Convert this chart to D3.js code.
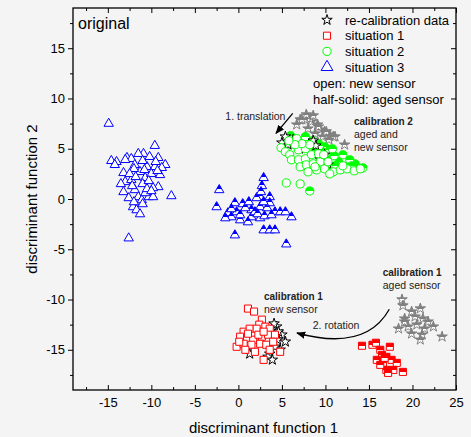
<!DOCTYPE html>
<html>
<head>
<meta charset="utf-8">
<script src="https://cdn.jsdelivr.net/npm/d3@7"></script>
<style>
  body { margin: 0; background: #f4f4f4; }
  text { font-family: Arial, "Liberation Sans", sans-serif; }
</style>
</head>
<body>
<div id="holder"></div>
<script>
const w = 471;
const h = 437;

// DATA  (discriminant function 1, discriminant function 2)
const xTicks = [-15, -10, -5, 0, 5, 10, 15, 20, 25];
const xMinor = [-17.5, -12.5, -7.5, -2.5, 2.5, 7.5, 12.5, 17.5, 22.5];
const yTicks = [-15, -10, -5, 0, 5, 10, 15];
const yMinor = [-17.5, -12.5, -7.5, -2.5, 2.5, 7.5, 12.5, 17.5];

// situation 3, new sensor (open triangles)
const s3New = [[-14.9,7.5],[-9.6,5.3],[-14.6,3.8],[-14.0,3.7],[-14.2,3.4],[-12.8,4.1],[-12.3,4.0],[-10.9,4.5],
  [-10.2,4.2],[-9.2,4.1],[-8.4,3.4],[-8.8,3.1],[-13.2,2.6],[-11.9,3.4],[-11.3,2.7],[-10.5,3.2],[-9.6,3.2],
  [-9.0,2.4],[-13.0,1.7],[-12.3,1.9],[-10.7,2.1],[-9.2,1.2],[-9.8,1.1],[-13.2,0.7],[-11.9,0.9],[-12.6,0.1],
  [-11.5,0.2],[-10.3,0.2],[-9.8,0.2],[-7.7,0.3],[-12.1,-0.8],[-11.7,-1.1],[-11.3,-1.5],[-11.1,-0.1],[-10.7,0.6],
  [-12.6,-3.9],[-13.5,1.5],[-12.0,3.0],[-11.0,1.5],[-10.0,2.5],[-11.5,4.5],[-10.5,1.0],[-12.5,2.5],[-11.0,3.8],
  [-9.5,3.7],[-10.0,0.8],[-12.0,-0.3],[-11.0,-0.5],[-13.0,3.9],[-11.8,2.2],[-10.3,1.8],[-9.3,2.8],[-12.2,1.3],[-10.8,2.9]];
// situation 3, aged sensor (half-solid triangles)
const s3Aged = [[-2.2,0.9],[-2.5,-0.8],[2.9,2.1],[2.7,1.3],[2.5,0.2],[3.6,0.2],[-0.4,-0.4],[0.5,-0.5],[-1.2,-1.4],
  [-0.8,-1.8],[0.2,-2.1],[1.5,-1.1],[1.5,-1.8],[2.5,-0.8],[2.5,-1.9],[3.3,-0.9],[3.6,-0.4],[4.2,-1.3],[4.8,-1.3],
  [5.4,-1.3],[6.1,-1.8],[2.9,-3.1],[3.6,-3.1],[4.2,-3.1],[-0.4,-3.6],[5.5,-4.5],[1.9,-1.3],[1.1,-2.3],[-1.5,-1.9],
  [2.1,0.1],[2.9,-0.3],[0.8,-0.9],[-0.2,-1.3],[1.2,-0.3],[2.2,-1.5],[3.0,-1.7],[0.2,-1.6],[-0.8,-1.0],[3.8,-1.6],[2.6,0.7]];
// situation 2, new sensor (open circles)
const s2New = [[6.7,6.0],[4.9,5.1],[5.4,4.7],[5.9,4.4],[6.9,4.9],[7.7,5.0],[6.1,3.9],[6.9,3.9],[7.7,4.0],[8.4,4.4],
  [9.2,4.5],[7.1,3.2],[7.8,3.4],[8.6,3.5],[9.4,3.7],[8.0,2.7],[9.0,2.9],[9.9,3.0],[10.9,2.7],[5.5,1.6],[7.1,1.5],
  [8.2,5.4],[7.3,5.5],[10.3,3.7],[9.8,4.4],[6.5,5.4],[11.7,2.9],[12.5,3.0],[13.3,2.8],[14.0,3.0],[12.0,3.3],
  [5.8,5.8],[8.8,3.2],[10.5,2.5]];
// situation 2, aged sensor (half-solid circles)
const s2Aged = [[7.7,6.2],[9.9,5.2],[10.5,4.9],[12.0,4.4],[12.4,3.2],[13.4,3.2],[8.2,0.8],[11.5,3.7],[9.2,5.5],
  [10.7,4.0],[13.4,3.5],[13.8,3.1],[8.5,5.8],[9.5,4.8],[11.0,4.3],[10.0,3.5],[11.2,3.3],[12.8,3.9],[13.0,3.3],
  [8.8,4.8],[10.8,5.0],[9.3,5.3],[14.3,3.1],[6.0,6.3]];
// calibration 2, aged sensor (grey stars)
const cal2Aged = [[7.7,7.9],[7.1,7.9],[8.4,7.7],[9.1,7.4],[8.0,7.0],[9.4,6.9],[9.9,6.7],[10.5,6.4],[11.1,6.2],
  [9.7,6.2],[8.8,6.5],[12.2,5.4],[7.3,7.9],[8.2,8.0],[9.2,7.2],[10.1,6.7],[10.9,6.2],[6.7,7.4],[8.6,8.3],
  [10.4,5.9],[7.8,8.4]];
// situation 1, new sensor (open squares)
const s1New = [[1.1,-10.9],[1.8,-11.2],[2.7,-12.0],[2.4,-12.5],[0.6,-13.2],[1.3,-12.9],[2.1,-12.9],[3.1,-12.7],
  [3.6,-12.9],[0.2,-13.7],[1.0,-13.9],[1.7,-14.0],[2.7,-13.7],[3.4,-13.5],[4.2,-13.5],[-0.2,-14.7],[0.6,-14.4],
  [1.5,-14.5],[2.5,-14.4],[3.2,-14.5],[4.0,-14.2],[4.8,-15.2],[3.6,-15.0],[2.9,-16.0],[1.9,-15.2],[0.8,-15.0],
  [0.1,-14.2],[2.3,-13.5],[1.1,-13.4],[2.9,-13.2]];
// situation 1, aged sensor (half-solid squares)
const s1Aged = [[14.2,-14.6],[15.4,-14.5],[15.8,-14.3],[17.4,-14.7],[16.3,-15.0],[16.5,-15.5],[17.0,-15.7],
  [15.9,-16.0],[16.6,-16.3],[17.6,-16.0],[18.2,-16.3],[17.0,-17.0],[17.8,-17.0],[18.9,-17.2],[17.2,-17.3],
  [16.3,-16.5],[16.8,-15.8]];
// calibration 1, aged sensor (grey stars)
const cal1Aged = [[18.8,-10.0],[18.9,-10.6],[20.9,-10.9],[19.9,-11.2],[19.1,-11.9],[20.3,-11.7],[21.2,-11.9],
  [18.4,-12.9],[19.5,-12.7],[20.5,-12.5],[21.4,-12.9],[22.4,-12.7],[19.9,-13.4],[21.1,-13.5],[23.4,-13.7],
  [20.9,-14.0],[19.1,-12.2],[21.8,-12.2]];
// re-calibration data (black open stars)
const recal = [[5.4,6.2],[5.7,5.4],[5.0,5.6],[8.6,5.8],[8.9,5.3],[9.9,4.4],[10.3,3.4],[7.0,5.0],[6.3,5.9],[9.3,4.0],
  [1.3,-15.4],[3.6,-15.4],[5.4,-14.2],[5.0,-13.5],[4.4,-12.7],[4.1,-12.4],[4.8,-15.0],[3.4,-15.7],[4.6,-13.2],
  [4.2,-14.7],[3.8,-13.0],[4.5,-14.0],[3.9,-16.0]];

const legendLabels = ["re-calibration data", "situation 1", "situation 2", "situation 3"];
const legendNotes = ["open: new sensor", "half-solid: aged sensor"];

// SVG
const svg = d3.select("#holder")
  .append("svg")
  .attr("width", w)
  .attr("height", h)
  .style("background", "#f4f4f4");

const padL = 73, padR = 456, padT = 8, padB = 390;

const xScale = d3.scaleLinear().domain([-19, 25]).range([padL, padR]);
const yScale = d3.scaleLinear().domain([-19, 19]).range([padB, padT]);

// half-solid fills
const defs = svg.append("defs");
function halfFill(id, color) {
  const g = defs.append("linearGradient")
    .attr("id", id)
    .attr("x1", 0).attr("y1", 0).attr("x2", 0).attr("y2", 1);
  g.append("stop").attr("offset", 0).attr("stop-color", color);
  g.append("stop").attr("offset", 0.55).attr("stop-color", color);
  g.append("stop").attr("offset", 0.55).attr("stop-color", "#ffffff");
  g.append("stop").attr("offset", 1).attr("stop-color", "#ffffff");
}
halfFill("halfBlue", "#0000ff");
halfFill("halfRed", "#ff0000");
halfFill("halfGreen", "#00ff00");
halfFill("halfGrey", "#808080");

const tri = d3.symbol().type(d3.symbolTriangle).size(38)();
const sq = d3.symbol().type(d3.symbolSquare).size(50)();
const circ = d3.symbol().type(d3.symbolCircle).size(52)();
const star = d3.symbol().type(d3.symbolStar).size(34)();

function drawSeries(data, path, stroke, fill) {
  svg.append("g")
    .selectAll("path")
    .data(data)
    .enter()
    .append("path")
    .attr("d", path)
    .attr("transform", d => `translate(${xScale(d[0])},${yScale(d[1])})`)
    .attr("fill", fill)
    .attr("stroke", stroke)
    .attr("stroke-width", 1);
}

// POINTS
drawSeries(cal2Aged, star, "#808080", "url(#halfGrey)");
drawSeries(cal1Aged, star, "#808080", "url(#halfGrey)");
drawSeries(s2Aged, circ, "#00ff00", "url(#halfGreen)");
drawSeries(recal, star, "#000000", "#ffffff");
drawSeries(s2New, circ, "#00ff00", "#ffffff");
drawSeries(s1New, sq, "#ff0000", "#ffffff");
drawSeries(s1Aged, sq, "#ff0000", "url(#halfRed)");
drawSeries(s3New, tri, "#0000ff", "#ffffff");
drawSeries(s3Aged, tri, "#0000ff", "url(#halfBlue)");

// AXES
function styleAxis(g) {
  g.select(".domain").remove();
  g.selectAll("line").attr("stroke", "#000").attr("stroke-width", 1);
  g.selectAll("text").attr("font-size", 13).attr("fill", "#000")
    .style("font-family", "Arial, 'Liberation Sans', sans-serif");
}
const plain = d => String(d);

svg.append("g")
  .attr("transform", `translate(0,${padB})`)
  .call(d3.axisBottom(xScale).tickValues(xTicks).tickSize(-5).tickPadding(8).tickFormat(plain))
  .call(styleAxis);
svg.append("g")
  .attr("transform", `translate(0,${padB})`)
  .call(d3.axisBottom(xScale).tickValues(xMinor).tickSize(-3).tickFormat(""))
  .call(styleAxis);
svg.append("g")
  .attr("transform", `translate(0,${padT})`)
  .call(d3.axisTop(xScale).tickValues(xTicks).tickSize(-5).tickFormat(""))
  .call(styleAxis);
svg.append("g")
  .attr("transform", `translate(0,${padT})`)
  .call(d3.axisTop(xScale).tickValues(xMinor).tickSize(-3).tickFormat(""))
  .call(styleAxis);

svg.append("g")
  .attr("transform", `translate(${padL},0)`)
  .call(d3.axisLeft(yScale).tickValues(yTicks).tickSize(5).tickPadding(3).tickFormat(plain))
  .call(styleAxis);
svg.append("g")
  .attr("transform", `translate(${padL},0)`)
  .call(d3.axisLeft(yScale).tickValues(yMinor).tickSize(3).tickFormat(""))
  .call(styleAxis);
svg.append("g")
  .attr("transform", `translate(${padR},0)`)
  .call(d3.axisRight(yScale).tickValues(yTicks).tickSize(-5).tickFormat(""))
  .call(styleAxis);
svg.append("g")
  .attr("transform", `translate(${padR},0)`)
  .call(d3.axisRight(yScale).tickValues(yMinor).tickSize(-3).tickFormat(""))
  .call(styleAxis);

// FRAME
svg.append("rect")
  .attr("x", padL).attr("y", padT)
  .attr("width", padR - padL).attr("height", padB - padT)
  .attr("fill", "none").attr("stroke", "#000").attr("stroke-width", 1.3);

// AXIS TITLES
svg.append("text")
  .attr("x", (padL + padR) / 2 - 1)
  .attr("y", 433)
  .attr("text-anchor", "middle")
  .attr("font-size", 15)
  .text("discriminant function 1");

svg.append("text")
  .attr("transform", `translate(37,${(padT + padB) / 2}) rotate(-90)`)
  .attr("text-anchor", "middle")
  .attr("font-size", 15)
  .text("discriminant function 2");

svg.append("text")
  .attr("x", padL + 5).attr("y", 29)
  .attr("font-size", 16)
  .text("original");

// LEGEND
const legendSyms = [
  { p: star, s: "#000000", f: "#ffffff" },
  { p: sq, s: "#ff0000", f: "#ffffff" },
  { p: circ, s: "#00ff00", f: "#ffffff" },
  { p: d3.symbol().type(d3.symbolTriangle).size(60)(), s: "#0000ff", f: "#ffffff" }
];
legendLabels.forEach((t, i) => {
  const cy = 20 + i * 15.7;
  svg.append("path")
    .attr("d", legendSyms[i].p)
    .attr("transform", `translate(327,${cy})`)
    .attr("fill", legendSyms[i].f)
    .attr("stroke", legendSyms[i].s);
  svg.append("text")
    .attr("x", 345).attr("y", cy + 4.5)
    .attr("font-size", 13)
    .text(t);
});
legendNotes.forEach((t, i) => {
  svg.append("text")
    .attr("x", 313).attr("y", 87.5 + i * 16)
    .attr("font-size", 13)
    .text(t);
});

// ANNOTATIONS
function note(x, y, lines, boldFirst) {
  lines.forEach((t, i) => {
    svg.append("text")
      .attr("x", xScale(x))
      .attr("y", yScale(y) + i * 13.4)
      .attr("font-size", boldFirst && i === 0 ? 10 : 10.5)
      .attr("font-weight", boldFirst && i === 0 ? "bold" : "normal")
      .attr("fill", "#222")
      .text(t);
  });
}
note(-1.5, 7.9, ["1. translation"], false);
note(13.28, 7.41, ["calibration 2", "aged and", "new sensor"], true);
note(16.58, -7.66, ["calibration 1", "aged sensor"], true);
note(2.94, -10.05, ["calibration 1", "new sensor"], true);
note(8.54, -12.93, ["2. rotation"], false);

defs.append("marker")
  .attr("id", "head")
  .attr("viewBox", "0 0 10 10")
  .attr("refX", 9).attr("refY", 5)
  .attr("markerWidth", 7).attr("markerHeight", 7)
  .attr("orient", "auto")
  .append("path")
  .attr("d", "M0,1 L10,5 L0,9 Z")
  .attr("fill", "#000");

svg.append("line")
  .attr("x1", xScale(6.24)).attr("y1", yScale(8.52))
  .attr("x2", xScale(4.32)).attr("y2", yScale(6.53))
  .attr("stroke", "#000").attr("stroke-width", 1.3)
  .attr("marker-end", "url(#head)");

svg.append("path")
  .attr("d", `M${xScale(17.34)},${yScale(-10.97)} Q${xScale(14.6)},${yScale(-15.2)} ${xScale(6.73)},${yScale(-13.33)}`)
  .attr("fill", "none")
  .attr("stroke", "#000").attr("stroke-width", 1.3)
  .attr("marker-end", "url(#head)");
</script>
</body>
</html>
